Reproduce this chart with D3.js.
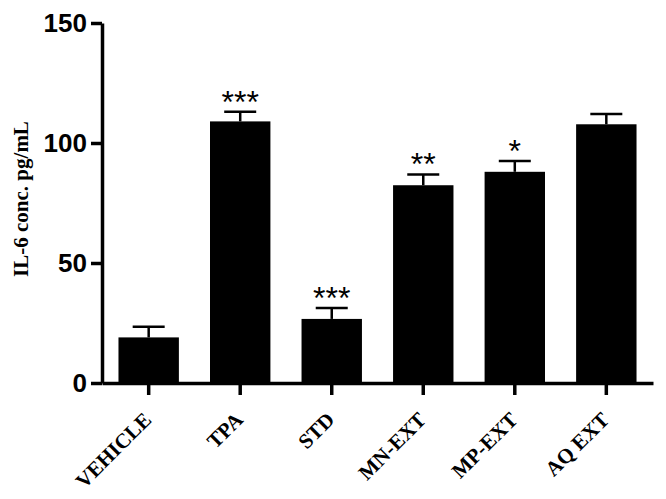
<!DOCTYPE html>
<html>
<head>
<meta charset="utf-8">
<script src="https://cdn.jsdelivr.net/npm/d3@7"></script>
<style>
  body { margin: 0; background: #fff; }
</style>
</head>
<body>
<div id="chart"></div>
<script>
// groups along the x axis
const groups = ["VEHICLE", "TPA", "STD", "MN-EXT", "MP-EXT", "AQ EXT"];
// mean IL-6 concentration (pg/mL)
const means = [19, 109, 26.7, 82.4, 88, 107.8];
// SEM for the error bars (upward only)
const errors = [4.4, 4, 4.6, 4.5, 4.5, 4.3];
// significance marks above the bars
const stars = ["", "***", "***", "**", "*", ""];
// y tick values
const yTicks = [0, 50, 100, 150];

const width = 666;
const height = 499;

const svg = d3.select("#chart")
  .append("svg")
  .attr("width", width)
  .attr("height", height);

// scales
const x = d3.scaleBand()
  .domain(groups)
  .range([102, 653])
  .paddingInner(0.34)
  .paddingOuter(0.18);

const y = d3.scaleLinear()
  .domain([0, 150])
  .range([383, 23]);

// bars
svg.selectAll(".bar")
  .data(groups)
  .enter()
  .append("rect")
  .attr("class", "bar")
  .attr("x", d => x(d))
  .attr("y", (d, i) => y(means[i]))
  .attr("width", x.bandwidth())
  .attr("height", (d, i) => y(0) - y(means[i]))
  .attr("fill", "#000");

// error bars - stem
svg.selectAll(".err")
  .data(groups)
  .enter()
  .append("line")
  .attr("x1", d => x(d) + x.bandwidth() / 2)
  .attr("x2", d => x(d) + x.bandwidth() / 2)
  .attr("y1", (d, i) => y(means[i]))
  .attr("y2", (d, i) => y(means[i] + errors[i]))
  .attr("stroke", "#000")
  .attr("stroke-width", 2.5);

// error bars - cap
svg.selectAll(".cap")
  .data(groups)
  .enter()
  .append("line")
  .attr("x1", d => x(d) + x.bandwidth() / 2 - 16)
  .attr("x2", d => x(d) + x.bandwidth() / 2 + 16)
  .attr("y1", (d, i) => y(means[i] + errors[i]))
  .attr("y2", (d, i) => y(means[i] + errors[i]))
  .attr("stroke", "#000")
  .attr("stroke-width", 2.5);

// stars
svg.selectAll(".star")
  .data(groups)
  .enter()
  .append("text")
  .attr("x", d => x(d) + x.bandwidth() / 2)
  .attr("y", (d, i) => y(means[i] + errors[i]) + 1)
  .attr("text-anchor", "middle")
  .attr("font-family", "'Liberation Sans', Arial, sans-serif")
  .attr("font-size", "32px")
  .text((d, i) => stars[i]);

// y axis
const yAxis = svg.append("g")
  .attr("transform", "translate(102,0)")
  .call(d3.axisLeft(y)
    .tickValues(yTicks)
    .tickSize(11)
    .tickSizeOuter(0)
    .tickPadding(4));

yAxis.select(".domain").attr("stroke-width", 3.5);
yAxis.selectAll(".tick line").attr("stroke-width", 3.5);
yAxis.selectAll(".tick text")
  .attr("font-family", "'Liberation Sans', Arial, sans-serif")
  .attr("font-weight", "bold")
  .attr("font-size", "26px")
  .attr("fill", "#000");

// x axis
const xAxis = svg.append("g")
  .attr("transform", "translate(0,383)")
  .call(d3.axisBottom(x)
    .tickSize(12)
    .tickSizeOuter(0));

xAxis.select(".domain").attr("stroke-width", 3.5);
xAxis.selectAll(".tick line").attr("stroke-width", 3.5);
xAxis.selectAll(".tick text").remove();

// rotated x labels
svg.selectAll(".xlabel")
  .data(groups)
  .enter()
  .append("text")
  .attr("class", "xlabel")
  .attr("transform", d => `translate(${x(d) + x.bandwidth() / 2 + 4},421) rotate(-45)`)
  .attr("text-anchor", "end")
  .attr("font-family", "'Liberation Serif', 'Times New Roman', serif")
  .attr("font-weight", "bold")
  .attr("font-size", "21px")
  .text(d => d);

// y axis title
svg.append("text")
  .attr("transform", "translate(28,199) rotate(-90)")
  .attr("text-anchor", "middle")
  .attr("font-family", "'Liberation Serif', 'Times New Roman', serif")
  .attr("font-weight", "bold")
  .attr("font-size", "21px")
  .text("IL-6 conc. pg/mL");
</script>
</body>
</html>
